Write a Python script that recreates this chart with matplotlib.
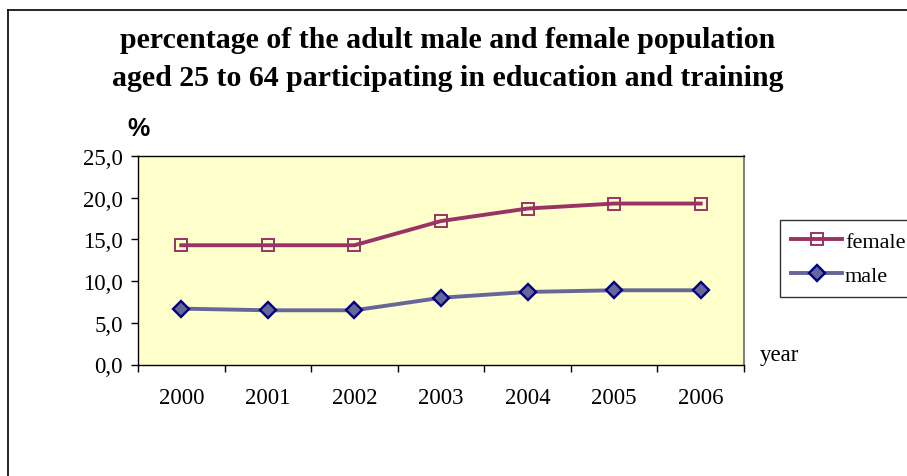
"""Adult participation in education and training, by sex, 2000-2006."""

import matplotlib.pyplot as plt
from matplotlib.lines import Line2D

years = ["2000", "2001", "2002", "2003", "2004", "2005", "2006"]
female = [14.3, 14.3, 14.3, 17.2, 18.7, 19.3, 19.3]
male = [6.7, 6.5, 6.5, 8.0, 8.7, 8.9, 8.9]
y_ticks = [0, 5, 10, 15, 20, 25]

W, H = 907, 477
SERIF = "Liberation Serif"
FS = 16.5

fig = plt.figure(figsize=(W / 100, H / 100), dpi=100)
ax = fig.add_axes([138 / W, 1 - 365.5 / H, (744 - 138) / W, (365.5 - 157) / H])
ax.set_facecolor("#FFFFCC")

xs = range(len(years))
ax.plot(xs, female, color="#993366", lw=2.8, marker="s", ms=8,
        mfc="none", mec="#993366", mew=1.4, label="female")
ax.plot(xs, male, color="#666699", lw=2.8, marker="D", ms=8,
        mfc="#666699", mec="#000080", mew=1.7, label="male")

ax.set_xlim(-0.5, len(years) - 0.5)
ax.set_ylim(0, 25)
ax.set_yticks(y_ticks)
ax.set_yticklabels([f"{v:.1f}".replace(".", ",") for v in y_ticks],
                   family=SERIF, fontsize=FS)
ax.set_xticks(list(xs))
ax.set_xticklabels(years, family=SERIF, fontsize=FS)
ax.set_xticks([i + 0.5 for i in range(-1, len(years))], minor=True)
ax.tick_params(axis="x", which="major", length=0, pad=16)
ax.tick_params(axis="x", which="minor", length=5, width=1, direction="out")
ax.tick_params(axis="y", length=5, width=1, direction="out", pad=6)

for side in ("left", "bottom", "top"):
    ax.spines[side].set_color("black")
    ax.spines[side].set_linewidth(1)
ax.spines["right"].set_color("#808080")
ax.spines["right"].set_linewidth(1.5)

leg = ax.legend(loc="upper left", bbox_to_anchor=(780 / W, 1 - 221 / H),
                bbox_transform=fig.transFigure, frameon=True, fancybox=False,
                prop={"family": SERIF, "size": 16}, handlelength=2.3,
                handletextpad=0.12, borderpad=0.5, labelspacing=0.6,
                borderaxespad=0)
leg.get_frame().set_edgecolor("black")
leg.get_frame().set_linewidth(1)

fig.text(0.494, 1 - 40 / H, "percentage of the adult male and female population",
         ha="center", va="center", family=SERIF, weight="bold", fontsize=21.5)
fig.text(0.494, 1 - 78 / H, "aged 25 to 64 participating in education and training",
         ha="center", va="center", family=SERIF, weight="bold", fontsize=21.5)
fig.text(139 / W, 1 - 129 / H, "%", ha="center", va="center",
         family="Liberation Sans", weight="bold", fontsize=18)
fig.text(760 / W, 1 - 356 / H, "year", ha="left", va="center",
         family=SERIF, fontsize=FS)

# chart-area frame (only left and top edges are visible in the crop)
fig.add_artist(Line2D([8 / W, 8 / W], [0, 1 - 11 / H], color="black", lw=1.2,
                      transform=fig.transFigure))
fig.add_artist(Line2D([8 / W, 1], [1 - 11 / H, 1 - 11 / H], color="black",
                      lw=1.2, transform=fig.transFigure))

fig.savefig("out.png", dpi=100)
